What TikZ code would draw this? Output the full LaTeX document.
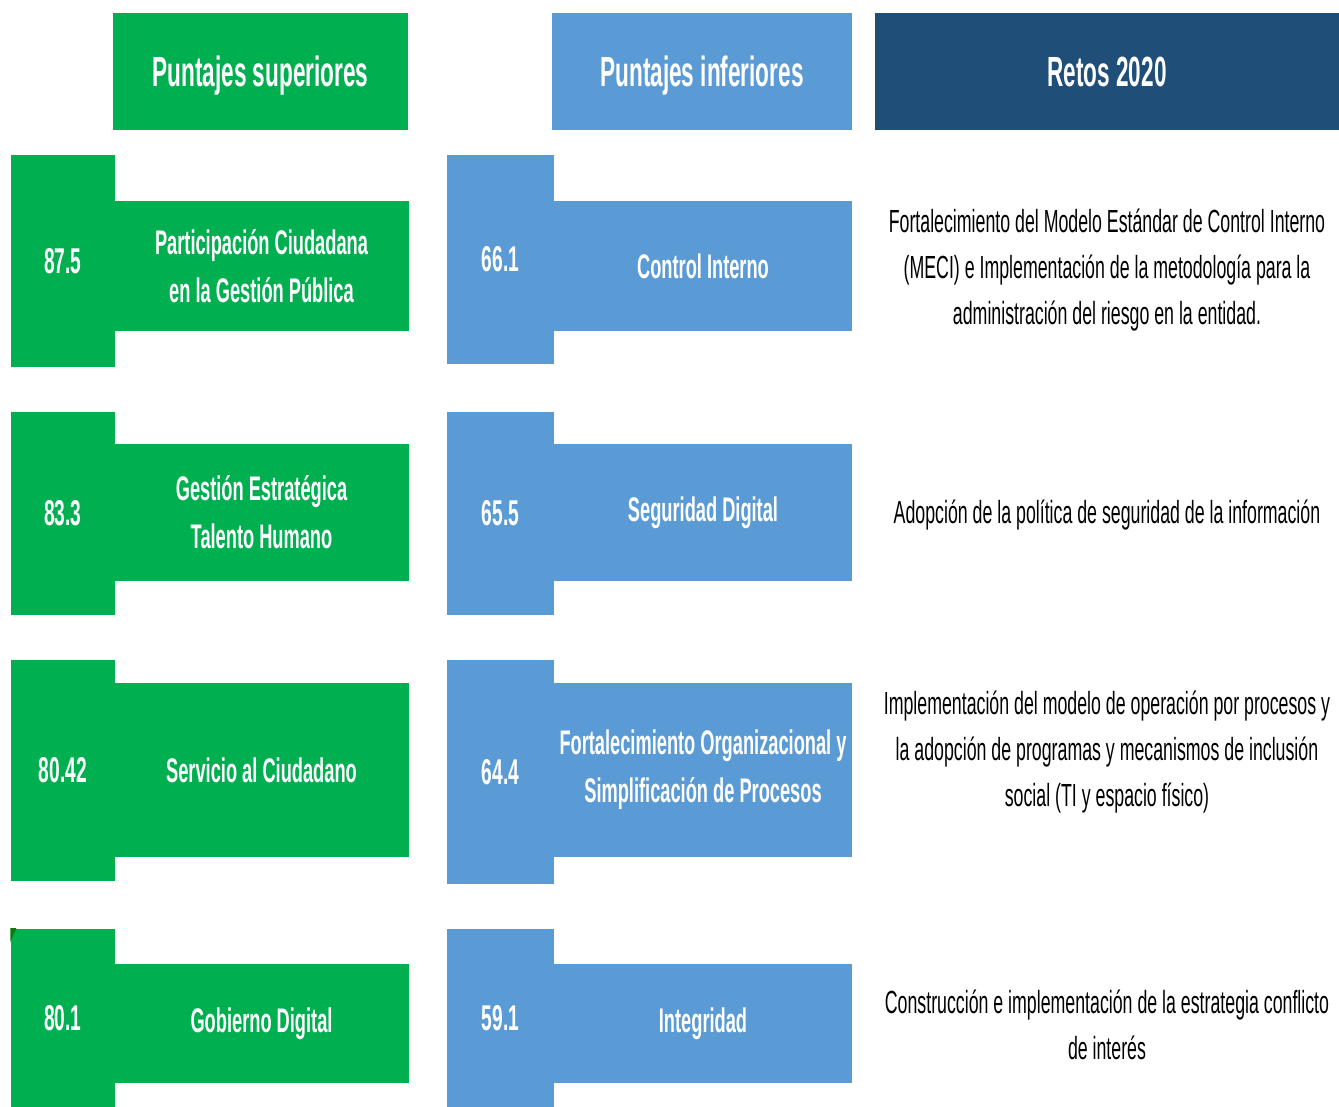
\documentclass[tikz,border=0pt]{standalone}
\usepackage{fontspec}
\setmainfont[UprightFeatures={FakeStretch=0.555},BoldFeatures={FakeStretch=0.535}]{Liberation Sans}
\definecolor{verde}{HTML}{00B050}
\definecolor{azulclaro}{HTML}{5B9BD5}
\definecolor{azuloscuro}{HTML}{1F4E79}
\definecolor{verdeoscuro}{HTML}{0B7A0B}
\tikzset{
	cabecera/.style={inner sep=0pt,text depth=0pt,text=white,font=\fontsize{12pt}{14pt}\selectfont\bfseries},
	puntaje/.style={inner sep=0pt,minimum width=1.04cm,text=white,font=\fontsize{10.2pt}{12pt}\selectfont\bfseries},
	politica/.style={inner sep=0pt,minimum width=2.95cm,text=white,align=center,font=\fontsize{9.7pt}{13.7pt}\selectfont\bfseries},
	reto/.style={inner sep=0pt,align=center,text=black,font=\fontsize{9.1pt}{13.1pt}\selectfont}
}
\begin{document}
\begin{tikzpicture}[x=0.01cm,y=-0.01cm]
		\useasboundingbox (0,0) rectangle (1339,1107);
		% encabezados
		\node[cabecera,fill=verde,minimum width=2.95cm,minimum height=1.17cm](hsup) at (260.5,71.5){Puntajes superiores};
		\node[cabecera,fill=azulclaro,minimum width=3.00cm,minimum height=1.17cm](hinf) at (702,71.5){Puntajes inferiores};
		\node[cabecera,fill=azuloscuro,minimum width=4.64cm,minimum height=1.17cm](hret) at (1107,71.5){Retos 2020};
		% puntajes superiores
		\node[puntaje,fill=verde,minimum height=2.12cm](s1) at (63,261){87.5};
		\node[politica,fill=verde,minimum height=1.30cm](p1) at (261.5,266){Participación Ciudadana\\en la Gestión Pública};
		\node[puntaje,fill=verde,minimum height=2.03cm](s2) at (63,513.5){83.3};
		\node[politica,fill=verde,minimum height=1.37cm](p2) at (261.5,512.5){Gestión Estratégica\\Talento Humano};
		\node[puntaje,fill=verde,minimum height=2.21cm](s3) at (63,770.5){80.42};
		\node[politica,fill=verde,minimum height=1.74cm](p3) at (261.5,770){Servicio al Ciudadano};
		\node[puntaje,fill=verde,minimum height=1.78cm](s4) at (63,1018){80.1};
		\node[politica,fill=verde,minimum height=1.19cm](p4) at (261.5,1023.5){Gobierno Digital};
		\fill[verdeoscuro] (s4.north west) -- ++(6,0) -- ++(-6,14) -- cycle;
		% puntajes inferiores
		\node[puntaje,fill=azulclaro,minimum width=1.07cm,minimum height=2.09cm](i1) at (500.5,259.5){66.1};
		\node[politica,fill=azulclaro,minimum width=2.98cm,minimum height=1.30cm](q1) at (703,266){Control Interno};
		\node[puntaje,fill=azulclaro,minimum width=1.07cm,minimum height=2.03cm](i2) at (500.5,513.5){65.5};
		\node[politica,fill=azulclaro,minimum width=2.98cm,minimum height=1.37cm](q2) at (703,512.5){Seguridad Digital};
		\node[puntaje,fill=azulclaro,minimum width=1.07cm,minimum height=2.24cm](i3) at (500.5,772){64.4};
		\node[politica,fill=azulclaro,minimum width=2.98cm,minimum height=1.74cm](q3) at (703,770){Fortalecimiento Organizacional y\\Simplificación de Procesos};
		\node[puntaje,fill=azulclaro,minimum width=1.07cm,minimum height=1.78cm](i4) at (500.5,1018){59.1};
		\node[politica,fill=azulclaro,minimum width=2.98cm,minimum height=1.19cm](q4) at (703,1023.5){Integridad};
		% retos
		\node[reto](r1) at (1107,270){Fortalecimiento del Modelo Estándar de Control Interno\\(MECI) e Implementación de la metodología para la\\administración del riesgo en la entidad.};
		\node[reto](r2) at (1107,515){Adopción de la política de seguridad de la información};
		\node[reto](r3) at (1107,752){Implementación del modelo de operación por procesos y\\la adopción de programas y mecanismos de inclusión\\social (TI y espacio físico)};
		\node[reto](r4) at (1107,1025){Construcción e implementación de la estrategia conflicto\\de interés};
	\end{tikzpicture}
\end{document}
